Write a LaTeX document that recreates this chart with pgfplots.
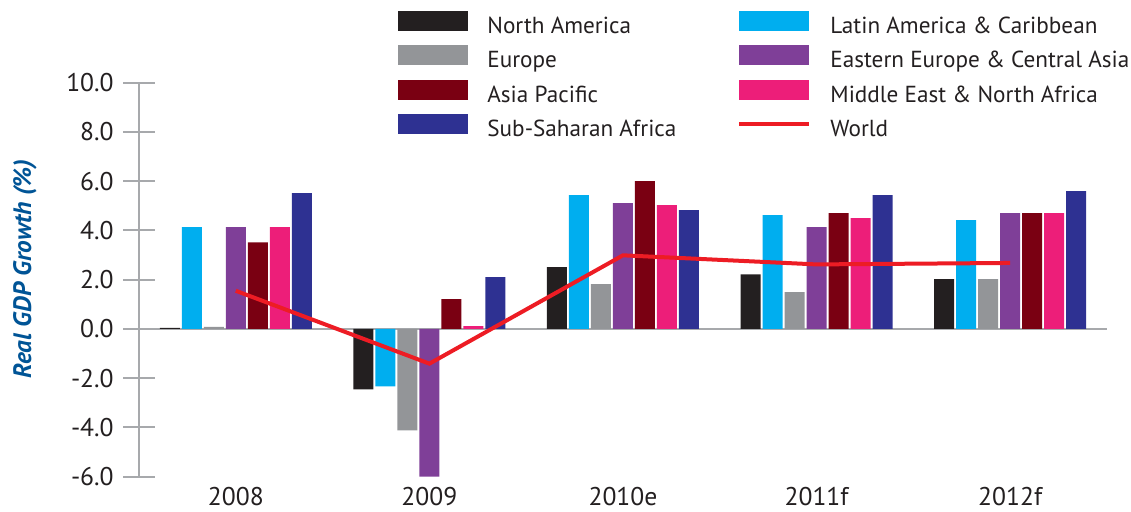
\documentclass[border=0pt]{standalone}
\usepackage{fontspec}
\setmainfont{PT Sans}
\usepackage{pgfplots}
\pgfplotsset{compat=1.18}

\definecolor{cNA}{RGB}{35,31,32}
\definecolor{cLA}{RGB}{0,174,239}
\definecolor{cEU}{RGB}{147,149,152}
\definecolor{cEE}{RGB}{127,63,152}
\definecolor{cAP}{RGB}{122,0,18}
\definecolor{cME}{RGB}{237,30,121}
\definecolor{cSS}{RGB}{46,49,146}
\definecolor{cWD}{RGB}{237,28,36}
\definecolor{axgray}{RGB}{167,169,172}
\definecolor{lblue}{RGB}{0,84,150}

\pgfplotsset{
  legbar/.style={legend image code/.code={\fill[##1] (0pt,-1.3pt) rectangle (35pt,8.7pt);}},
  regbar/.style={ybar, bar width=10pt, draw=none, fill=#1, legbar},
}

\begin{document}
\begin{tikzpicture}
\path[use as bounding box] (0,0) rectangle (565.5pt,256pt);
\begin{axis}[
    at={(69.5pt,17.65pt)}, anchor=south west,
    scale only axis,
    width=484pt, height=197pt,
    xmin=-0.5, xmax=4.5,
    ymin=-6, ymax=10,
    clip=false,
    axis y line*=left,
    axis x line*=bottom,
    x axis line style={draw=none},
    y axis line style={draw=axgray, line width=1pt},
    xtick={0,1,2,3,4},
    xticklabels={2008,2009,2010e,2011f,2012f},
    xtick style={draw=none},
    ytick={-6,-4,...,10},
    ytick style={draw=axgray, line width=1pt},
    tick align=center,
    major tick length=16pt,
    extra y ticks={0},
    extra y tick labels={},
    extra y tick style={grid=major, major grid style={draw=axgray, line width=1.2pt}},
    /pgf/number format/assume math mode=true,
    y tick label style={/pgf/number format/fixed, /pgf/number format/fixed zerofill, /pgf/number format/precision=1},
    tick label style={font=\fontsize{12.8}{14}\selectfont, text=cNA},
    yticklabel style={anchor=east, inner sep=0pt, xshift=-4.5pt},
    xticklabel style={anchor=center, inner sep=0pt, yshift=-2pt},
    ylabel={\textbf{\textit{Real GDP Growth (\%)}}},
    every axis y label/.style={at={(axis description cs:-0.118,0.527)}, rotate=90, anchor=center,
      font=\fontsize{12.6}{14}\selectfont, text=lblue},
    legend columns=2,
    legend cell align=left,
    legend style={
      at={(129.5pt,233pt)}, anchor=north west, draw=none, fill=none,
      inner sep=0pt, column sep=9.5pt, row sep=3.5pt,
      font=\fontsize{11.6}{13}\selectfont, text=cNA,
      nodes={inner sep=0pt, text height=7.5pt, text depth=2.5pt}
    },
  ]

  \addplot[regbar=cNA, bar shift=-33pt] coordinates {(0,0.04) (1,-2.45) (2,2.51) (3,2.22) (4,2.02)};
  \addlegendentry{\makebox[115.5pt][l]{North America}}
  \addplot[regbar=cLA, bar shift=-22pt] coordinates {(0,4.13) (1,-2.33) (2,5.43) (3,4.62) (4,4.42)};
  \addlegendentry{Latin America \& Caribbean}
  \addplot[regbar=cEU, bar shift=-11pt] coordinates {(0,0.08) (1,-4.12) (2,1.82) (3,1.49) (4,2.02)};
  \addlegendentry{\makebox[115.5pt][l]{Europe}}
  \addplot[regbar=cEE, bar shift=0pt] coordinates {(0,4.13) (1,-6.0) (2,5.11) (3,4.13) (4,4.70)};
  \addlegendentry{Eastern Europe \& Central Asia}
  \addplot[regbar=cAP, bar shift=11pt] coordinates {(0,3.52) (1,1.21) (2,6.0) (3,4.70) (4,4.70)};
  \addlegendentry{\makebox[115.5pt][l]{Asia Pacific}}
  \addplot[regbar=cME, bar shift=22pt] coordinates {(0,4.13) (1,0.11) (2,5.03) (3,4.50) (4,4.70)};
  \addlegendentry{Middle East \& North Africa}
  \addplot[regbar=cSS, bar shift=33pt] coordinates {(0,5.52) (1,2.10) (2,4.82) (3,5.43) (4,5.60)};
  \addlegendentry{\makebox[115.5pt][l]{Sub-Saharan Africa}}
  \addplot[sharp plot, no markers, draw=cWD, line width=2pt,
    legend image code/.code={\draw[cWD, line width=2pt] (0pt,3.7pt) -- (35pt,3.7pt);}]
    coordinates {(0,1.55) (1,-1.41) (2,2.99) (3,2.62) (4,2.68)};
  \addlegendentry{World}
\end{axis}
\end{tikzpicture}
\end{document}
